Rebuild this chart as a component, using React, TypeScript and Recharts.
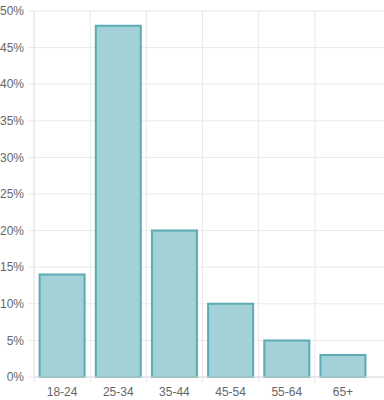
import React from 'react';
import { BarChart, Bar, XAxis, YAxis, CartesianGrid } from 'recharts';

const ageGroups = ['18-24', '25-34', '35-44', '45-54', '55-64', '65+'];
const shares = [14, 48, 20, 10, 5, 3];
const yTicks = [0, 5, 10, 15, 20, 25, 30, 35, 40, 45, 50];

const data = ageGroups.map((g, i) => ({ group: g, share: shares[i] }));

const GRID = '#e9e9e9';
const AXIS = '#dcdcdc';
const RIGHT_PAD = 13;
const BAND = (384 - 34 - RIGHT_PAD) / ageGroups.length;

function XTick(props: any) {
  const { x, y, payload } = props;
  const half = BAND / 2;
  return (
    <g>
      <line x1={x - half} x2={x - half} y1={y - 8} y2={y - 2} stroke={GRID} />
      <text x={x} y={y + 2.5} dy="0.71em" textAnchor="middle" fill="#666" fontSize={12}>
        {payload.value}
      </text>
    </g>
  );
}

export default function App() {
  return (
    <div style={{ position: 'absolute', left: 0, top: 0, fontFamily: '"Liberation Sans", Arial, sans-serif' }}>
      <BarChart
        width={384}
        height={400}
        data={data}
        margin={{ top: 11, right: 0, left: 0, bottom: 0 }}
        barCategoryGap="10%"
      >
        <CartesianGrid
          stroke={GRID}
          verticalCoordinatesGenerator={({ offset }: any) =>
            ageGroups.slice(1).map((_, i) => offset.left + (i + 1) * BAND)
          }
        />
        <XAxis
          dataKey="group"
          height={23}
          stroke={AXIS}
          tickLine={false}
          tick={<XTick />}
          padding={{ left: 0, right: RIGHT_PAD }}
          interval={0}
        />
        <YAxis
          width={34}
          domain={[0, 50]}
          ticks={yTicks}
          tickFormatter={(v: number) => `${v}%`}
          stroke={AXIS}
          tickLine={{ stroke: GRID }}
          tickSize={6}
          tickMargin={4}
          tick={{ fill: '#666', fontSize: 12 }}
          interval={0}
        />
        <Bar
          dataKey="share"
          fill="#a4d1d7"
          stroke="#5aabb3"
          strokeWidth={2}
          isAnimationActive={false}
        />
      </BarChart>
    </div>
  );
}
